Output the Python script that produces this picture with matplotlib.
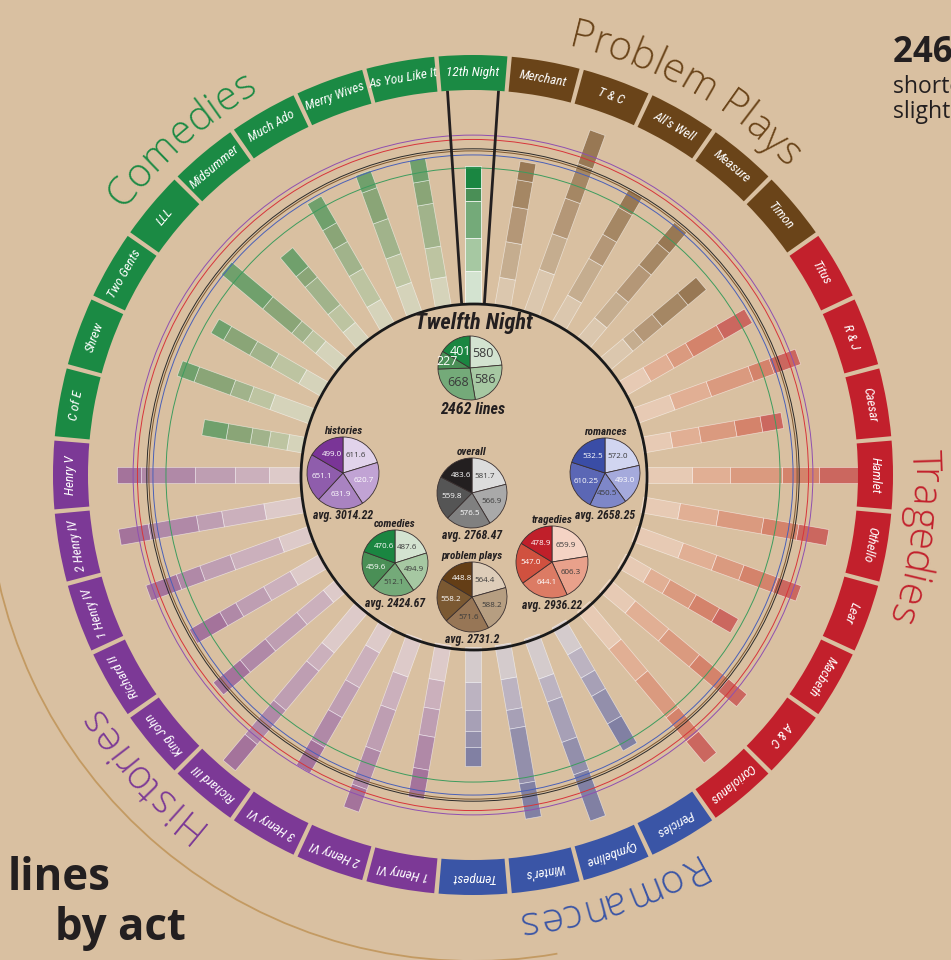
import numpy as np
import matplotlib
matplotlib.use('Agg')
import matplotlib.pyplot as plt
from matplotlib.patches import Polygon, Wedge, Circle, Arc
from matplotlib import font_manager as fm

# ---------------- data ----------------
comedy_plays = ["12th Night", "As You Like It", "Merry Wives", "Much Ado", "Midsummer",
                "LLL", "Two Gents", "Shrew", "C of E"]
comedy_acts = [[580, 586, 668, 227, 401], [500, 560, 780, 420, 410], [540, 550, 670, 590, 330],
               [470, 640, 560, 390, 550], [370, 420, 640, 250, 440], [480, 300, 260, 680, 970],
               [440, 580, 440, 540, 260], [740, 410, 350, 690, 320], [280, 340, 330, 440, 440]]

problem_plays = ["Merchant", "T & C", "All's Well", "Measure", "Timon"]
problem_acts = [[490, 650, 640, 490, 335], [790, 680, 680, 660, 640], [560, 760, 500, 560, 370],
                [480, 600, 640, 510, 480], [540, 250, 440, 600, 430]]

tragedy_plays = ["Titus", "R & J", "Caesar", "Hamlet", "Othello", "Lear", "Macbeth", "A & C",
                 "Coriolanus"]
tragedy_acts = [[520, 480, 400, 640, 580], [720, 700, 800, 400, 500], [530, 520, 650, 470, 380],
                [850, 670, 940, 660, 740], [670, 700, 820, 640, 545], [880, 640, 520, 650, 440],
                [520, 400, 540, 480, 390], [600, 780, 720, 680, 430], [880, 740, 860, 560, 500]]

romance_plays = ["Pericles", "Cymbeline", "Winter's", "Tempest"]
romance_acts = [[560, 480, 380, 570, 560], [760, 440, 770, 620, 880], [620, 560, 340, 1000, 640],
                [620, 520, 370, 280, 340]]

history_plays = ["1 Henry VI", "2 Henry VI", "3 Henry VI", "Richard III", "King John",
                 "Richard II", "1 Henry IV", "2 Henry IV", "Henry V"]
history_acts = [[650, 520, 500, 600, 530], [720, 640, 790, 720, 430], [520, 720, 620, 620, 530],
                [960, 430, 920, 800, 610], [300, 620, 740, 590, 630], [620, 550, 580, 330, 630],
                [570, 930, 580, 450, 580], [700, 770, 460, 880, 540], [580, 610, 720, 960, 430]]

featured_play = "12th Night"
featured_title = "Twelfth Night"
featured_acts = [580, 586, 668, 227, 401]
featured_total = 2462

pie_names = ["histories", "romances", "overall", "comedies", "tragedies", "problem plays"]
pie_values = {
    "histories": [611.6, 620.7, 631.9, 651.1, 499.0],
    "romances": [572.0, 493.0, 450.5, 610.25, 532.5],
    "overall": [581.7, 566.9, 576.5, 559.8, 483.6],
    "comedies": [487.6, 494.9, 512.1, 459.6, 470.6],
    "tragedies": [659.9, 606.3, 644.1, 547.0, 478.9],
    "problem plays": [564.4, 588.2, 571.6, 558.2, 448.8],
}
pie_avgs = {"histories": "3014.22", "romances": "2658.25", "overall": "2768.47",
            "comedies": "2424.67", "tragedies": "2936.22", "problem plays": "2731.2"}

# ---------------- style ----------------
W, H, DPI = 951, 960, 100
BG = '#d9c0a1'
CX, CY = 473, 960 - 475
BASE, K = 172, 0.0557
BAR_HW = 8
BOX_IN, BOX_OUT = 385, 420

genre_color = {"comedies": "#1b8a44", "problem plays": "#6a4419", "tragedies": "#c2202c",
               "romances": "#3a55a6", "histories": "#7c3996", "overall": "#231f20"}
shades = {
    "comedies": ['#d3e3d0', '#a6c8a2', '#74aa79', '#4a8f56', '#1a8641'],
    "problem plays": ['#ddcdb9', '#b69e81', '#977656', '#7b5932', '#643e16'],
    "tragedies": ['#f4d3c4', '#e9a18b', '#dc7b64', '#d0513f', '#c01f2a'],
    "romances": ['#d1d5f0', '#a5aadc', '#7e87c8', '#5b67b5', '#3a4da6'],
    "histories": ['#e1d3eb', '#c1a3d4', '#a983c1', '#8f5dac', '#7a3597'],
    "overall": ['#dcdcdc', '#a9a9a9', '#808080', '#555555', '#231f20'],
}
circle_color = {"histories": "#8f4fb0", "tragedies": "#d7343a", "overall": "#2a2a2a",
                "romances": "#4a60b8", "problem plays": "#7a5630", "comedies": "#3d9c5e"}


def has_font(name):
    try:
        fm.findfont(fm.FontProperties(family=name), fallback_to_default=False)
        return True
    except Exception:
        return False


COND = next((f for f in ['Liberation Sans Narrow', 'Roboto Condensed', 'Noto Sans Condensed',
                         'DejaVu Sans Condensed'] if has_font(f)), 'DejaVu Sans')
HUM = next((f for f in ['Open Sans', 'Noto Sans', 'Lato', 'DejaVu Sans'] if has_font(f)), 'DejaVu Sans')

fig = plt.figure(figsize=(W / DPI, H / DPI), dpi=DPI)
fig.patch.set_facecolor(BG)
ax = fig.add_axes([0, 0, 1, 1])
ax.set_facecolor(BG)
renderer = fig.canvas.get_renderer()

# ---------------- play order around the wheel ----------------
order = []
order += [(comedy_plays[0], comedy_acts[0], "comedies")]
order += [(n, a, "problem plays") for n, a in zip(problem_plays, problem_acts)]
order += [(n, a, "tragedies") for n, a in zip(tragedy_plays, tragedy_acts)]
order += [(n, a, "romances") for n, a in zip(romance_plays, romance_acts)]
order += [(n, a, "histories") for n, a in zip(history_plays, history_acts)]
order += [(n, a, "comedies") for n, a in zip(comedy_plays[1:][::-1], comedy_acts[1:][::-1])]
step = 360.0 / len(order)

c = np.array([CX, CY])


def rect(theta, r0, r1, hw):
    t = np.deg2rad(theta)
    u = np.array([np.cos(t), np.sin(t)])
    v = np.array([-np.sin(t), np.cos(t)])
    return [c + r0 * u - hw * v, c + r1 * u - hw * v, c + r1 * u + hw * v, c + r0 * u + hw * v]


cond_it = dict(family=[COND, 'DejaVu Sans'], style='italic')

for i, (name, acts, genre) in enumerate(order):
    theta = 90 - i * step
    feat = (name == featured_play)
    cum = np.concatenate([[0], np.cumsum(acts)])
    for a in range(5):
        r0 = BASE + K * cum[a]
        r1 = BASE + K * cum[a + 1]
        ax.add_patch(Polygon(rect(theta, r0, r1, BAR_HW), closed=True,
                             facecolor=shades[genre][a], alpha=1.0 if feat else 0.55,
                             edgecolor=(1, 1, 1, 0.35), lw=0.5, zorder=3 if feat else 2))
    # label box
    ax.add_patch(Wedge((CX, CY), BOX_OUT, theta - 4.7, theta + 4.7, width=BOX_OUT - BOX_IN,
                       facecolor=genre_color[genre], edgecolor='none', zorder=4))
    rm = (BOX_IN + BOX_OUT) / 2
    t = np.deg2rad(theta)
    ax.text(CX + rm * np.cos(t), CY + rm * np.sin(t), name, color='white', fontsize=9.5,
            rotation=theta - 90, rotation_mode='anchor', ha='center', va='center',
            zorder=5, **cond_it)
    if feat:
        for d in (-3.8, 3.8):
            tt = np.deg2rad(theta + d)
            ax.plot([CX + 172 * np.cos(tt), CX + BOX_IN * np.cos(tt)],
                    [CY + 172 * np.sin(tt), CY + BOX_IN * np.sin(tt)],
                    color='#231f20', lw=2, zorder=6, solid_capstyle='butt')

# genre average rings
for g in ["histories", "tragedies", "overall", "problem plays", "romances", "comedies"]:
    r = BASE + K * float(pie_avgs[g])
    ax.add_patch(Circle((CX, CY), r, fill=False, edgecolor=circle_color[g], lw=0.7, zorder=4))

# inner circle
ax.add_patch(Circle((CX + 1, CY - 2), 173, fill=False, edgecolor='#1a1a1a', lw=2.0, zorder=6))

# big tan arc
ax.add_patch(Arc((CX, CY), 2 * 486, 2 * 486, theta1=180, theta2=280, color='#c39a62', lw=1.3, zorder=1))


# ---------------- curved genre labels ----------------
def ink_w(s, fp):
    return renderer.get_text_width_height_descent(s, fp, ismath=False)[0]


def arc_text(s, R, theta_c, color, size):
    fp = fm.FontProperties(family=HUM, size=size, weight='light')
    tot = ink_w(s, fp)
    xh = 0.36 * size * DPI / 72  # distance from baseline to mid x-height
    start = np.deg2rad(theta_c) + tot / (2 * R)
    for i, ch in enumerate(s):
        if ch == ' ':
            continue
        right = ink_w(s[:i + 1], fp)
        cpos = right - ink_w(ch, fp) / 2
        th = start - cpos / R
        rr = R + xh
        ax.text(CX + rr * np.cos(th), CY + rr * np.sin(th), ch, fontproperties=fp, color=color,
                rotation=np.rad2deg(th) - 90, rotation_mode='anchor', ha='center',
                va='center_baseline', zorder=5)


arc_text("Comedies", 440, 131, genre_color["comedies"], 29)
arc_text("Problem Plays", 440, 61, genre_color["problem plays"], 29)
arc_text("Tragedies", 440, -8, genre_color["tragedies"], 29)
arc_text("Romances", 440, -72, genre_color["romances"], 29)
arc_text("Histories", 440, 222, genre_color["histories"], 29)

# ---------------- pies ----------------
bold_it = dict(family=[COND, 'DejaVu Sans'], style='italic', weight='bold', color='#231f20')


def fmt(v):
    if isinstance(v, int):
        return str(v)
    s = f'{v:.2f}'.rstrip('0')
    return s + '0' if s.endswith('.') else s


def draw_pie(vals, shade, x, y, r, fs, txtcols, labdist=0.6):
    wedges, _ = ax.pie(vals, colors=shade, startangle=90, counterclock=False,
                       center=(x, y), radius=r,
                       wedgeprops=dict(edgecolor='#3a3030', lw=0.6))
    for w in wedges:
        w.set_zorder(7)
    for w, v, tc in zip(wedges, vals, txtcols):
        mid = np.deg2rad((w.theta1 + w.theta2) / 2)
        ld = labdist if (w.theta2 - w.theta1) > 40 else 0.75
        ax.text(x + ld * r * np.cos(mid), y + ld * r * np.sin(mid), fmt(v), fontsize=fs,
                color=tc, ha='center', va='center', zorder=8, family=HUM)


DK, WH = '#3a3a3a', 'white'
# featured pie
draw_pie(featured_acts, shades["comedies"], 470, 960 - 368, 32, 9, [DK, DK, DK, WH, WH])
ax.text(474, 960 - 323, featured_title, fontsize=16, ha='center', va='center', zorder=8, **bold_it)
ax.text(473, 960 - 410, f"{featured_total} lines", fontsize=11.5, ha='center', va='center',
        zorder=8, **bold_it)

pie_pos = {"histories": (343, 473, 36), "romances": (605, 473, 35), "overall": (472, 493, 35),
           "comedies": (395, 563, 33), "tragedies": (552, 562, 36), "problem plays": (472, 597, 35)}
pie_txt = {"histories": [DK, WH, WH, WH, WH], "romances": [DK, WH, DK, WH, WH],
           "overall": [DK, DK, WH, WH, WH], "comedies": [DK, DK, DK, WH, WH],
           "tragedies": [DK, DK, WH, WH, WH], "problem plays": [DK, DK, DK, WH, WH]}
for g in pie_names:
    x, yr, r = pie_pos[g]
    y = 960 - yr
    draw_pie(pie_values[g], shades[g], x, y, r, 5.8, pie_txt[g])
    ax.text(x, y + r + 6, g, fontsize=8, ha='center', va='center', zorder=8, **bold_it)
    ax.text(x, y - r - 7, f"avg. {pie_avgs[g]}", fontsize=8.5, ha='center', va='center',
            zorder=8, **bold_it)

# ---------------- titles ----------------
ax.text(8, 960 - 890, "lines", fontsize=31.5, weight='bold', color='#231f20', family=HUM,
        ha='left', va='baseline', zorder=8)
ax.text(55, 960 - 940, "by act", fontsize=31.5, weight='bold', color='#231f20', family=HUM,
        ha='left', va='baseline', zorder=8)
ax.text(893, 960 - 62, "2462 lines", fontsize=25, weight='bold', color='#231f20', family=HUM,
        ha='left', va='baseline', zorder=8)
ax.text(893, 960 - 93, "shorter than average,", fontsize=16.5, color='#231f20', family=HUM,
        ha='left', va='baseline', zorder=8)
ax.text(893, 960 - 118, "slightly unbalanced", fontsize=16.5, color='#231f20', family=HUM,
        ha='left', va='baseline', zorder=8)

ax.set_xlim(0, W)
ax.set_ylim(0, H)
ax.set_aspect('auto')
ax.axis('off')
fig.savefig('out.png', dpi=DPI, facecolor=BG)
